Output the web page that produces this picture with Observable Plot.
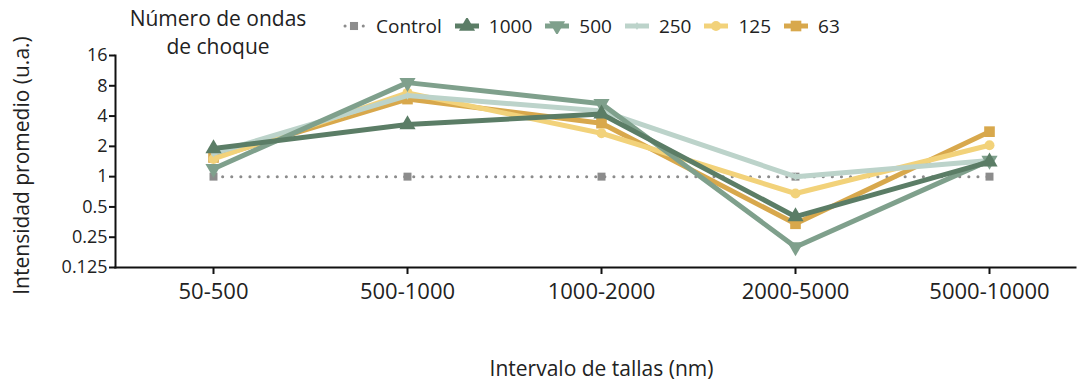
<!DOCTYPE html>
<html><head><meta charset="utf-8">
<script src="https://cdn.jsdelivr.net/npm/d3@7"></script>
<script src="https://cdn.jsdelivr.net/npm/@observablehq/plot@0.6"></script>
<style>
body{margin:0;background:#fff;font-family:"Open Sans",sans-serif;}
#wrap{position:relative;width:1078px;height:387px;}
#title{position:absolute;left:117px;top:4px;width:202px;text-align:center;font-size:21px;line-height:28px;color:#222;}
#legend{position:absolute;left:341px;top:13px;display:flex;align-items:center;font-size:19px;color:#222;}
#legend .it{display:flex;align-items:center;margin-right:12px;}
#legend svg{margin-right:9px;}
#wrap svg g[aria-label="y-axis tick label"]{font-size:18px;}
#wrap svg g[aria-label="x-axis tick label"]{font-size:22px;}
</style></head>
<body><div id="wrap"><div id="title">Número de ondas<br>de choque</div><div id="legend"></div></div>
<script>
const categories = ["50-500","500-1000","1000-2000","2000-5000","5000-10000"];
const seriesNames = ["Control","1000","500","250","125","63"];
const control = [1,1,1,1,1];
const v1000 = [1.9,3.3,4.2,0.4,1.4];
const v500 = [1.2,8.6,5.3,0.2,1.45];
const v250 = [1.7,6.4,4.5,1.0,1.45];
const v125 = [1.5,6.8,2.7,0.68,2.05];
const v63 = [1.55,5.9,3.4,0.34,2.8];
const yTicks = [0.125,0.25,0.5,1,2,4,8,16];

const colors = {"Control":"#8c8c8c","1000":"#5b7d66","500":"#7fa08c","250":"#bcd3ca","125":"#f2d27a","63":"#d8a84c"};
const symbols = {"Control":"square","1000":"triangle","500":"triangle","250":"diamond","125":"circle","63":"square"};
const rot = {"Control":0,"1000":0,"500":180,"250":0,"125":0,"63":0};
const rad = {"Control":4,"1000":6,"500":6,"250":2.5,"125":5,"63":6};
const vals = {"Control":control,"1000":v1000,"500":v500,"250":v250,"125":v125,"63":v63};

const drawOrder = ["63","125","250","500","1000"];
const data = [];
for (const s of seriesNames) vals[s].forEach((v,i)=>data.push({series:s,cat:categories[i],v}));

const marks = [];
const ctrl = data.filter(d=>d.series==="Control");
marks.push(Plot.line(ctrl,{x:"cat",y:"v",stroke:colors.Control,strokeWidth:3,strokeDasharray:"0.1 9",strokeLinecap:"round"}));
marks.push(Plot.dot(ctrl,{x:"cat",y:"v",symbol:"square",r:4.5,fill:colors.Control}));
for (const s of drawOrder) {
  const d = data.filter(e=>e.series===s);
  marks.push(Plot.line(d,{x:"cat",y:"v",stroke:colors[s],strokeWidth:5,strokeLinejoin:"round"}));
  marks.push(Plot.dot(d,{x:"cat",y:"v",symbol:symbols[s],r:rad[s],fill:colors[s],rotate:rot[s]}));
}

const chart = Plot.plot({
  width:1078, height:387,
  marginTop:55, marginBottom:120, marginLeft:115, marginRight:3,
  style:{fontFamily:"Open Sans",color:"#222"},
  x:{type:"point",domain:categories,padding:0.443,insetLeft:12,label:null},
  y:{type:"log",base:2,domain:[0.125,16],label:null},
  marks:[
    Plot.axisY({ticks:yTicks,tickFormat:d=>String(d),tickSize:6,tickPadding:2,strokeWidth:2,stroke:"#111"}),
    Plot.axisX({tickSize:7,tickPadding:9,strokeWidth:2,stroke:"#111",label:null}),
    Plot.frame({anchor:"left",stroke:"#111",strokeWidth:2}),
    Plot.frame({anchor:"bottom",stroke:"#111",strokeWidth:2}),
    Plot.text(["Intensidad promedio (u.a.)"],{frameAnchor:"left",textAnchor:"middle",dx:-93,dy:4,rotate:-90,fontSize:21,fill:"#222"}),
    Plot.text(["Intervalo de tallas (nm)"],{frameAnchor:"bottom",dx:6,dy:108,fontSize:21,fill:"#222"}),
    ...marks
  ]
});
document.getElementById("wrap").prepend(chart);
chart.style.position="absolute";chart.style.left="0";chart.style.top="0";

const leg = document.getElementById("legend");
for (const s of seriesNames) {
  const it = document.createElement("div"); it.className="it";
  const ns="http://www.w3.org/2000/svg";
  const sv=document.createElementNS(ns,"svg"); sv.setAttribute("width",26); sv.setAttribute("height",16);
  const ln=document.createElementNS(ns,"line");
  ln.setAttribute("x1",1);ln.setAttribute("x2",25);ln.setAttribute("y1",8);ln.setAttribute("y2",8);
  ln.setAttribute("stroke",colors[s]);
  if(s==="Control"){ln.setAttribute("stroke-width",3);ln.setAttribute("stroke-dasharray","0.1 9");ln.setAttribute("stroke-linecap","round");ln.setAttribute("x1",4);}
  else ln.setAttribute("stroke-width",5);
  sv.appendChild(ln);
  const sym=d3.symbol(s==="1000"||s==="500"?d3.symbolTriangle:s==="125"?d3.symbolCircle:s==="250"?d3.symbolDiamond:d3.symbolSquare, Math.PI*rad[s]*rad[s]*(s==="Control"?1.3:1))();
  const p=document.createElementNS(ns,"path"); p.setAttribute("d",sym); p.setAttribute("fill",colors[s]);
  p.setAttribute("transform",`translate(13,8) rotate(${rot[s]})`);
  sv.appendChild(p);
  it.appendChild(sv);
  const t=document.createElement("span"); t.textContent=s; it.appendChild(t);
  leg.appendChild(it);
}
</script></body></html>
